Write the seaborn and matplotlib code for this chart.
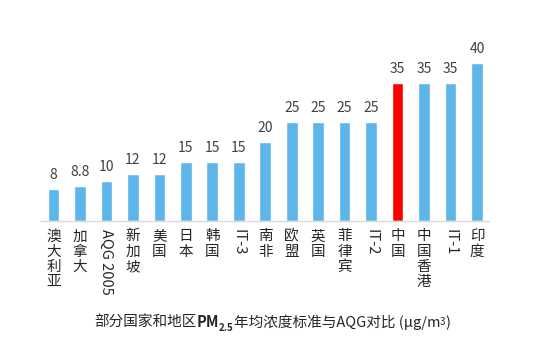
import matplotlib
matplotlib.use("Agg")
import matplotlib.pyplot as plt
import seaborn as sns
import pandas as pd

# data
regions = ["澳大利亚", "加拿大", "AQG 2005", "新加坡", "美国", "日本", "韩国", "IT-3",
           "南非", "欧盟", "英国", "菲律宾", "IT-2", "中国", "中国香港", "IT-1", "印度"]
limits = [8, 8.8, 10, 12, 12, 15, 15, 15, 20, 25, 25, 25, 25, 35, 35, 35, 40]
value_text = ["8", "8.8", "10", "12", "12", "15", "15", "15", "20", "25", "25", "25",
              "25", "35", "35", "35", "40"]
highlight = "中国"

blue = "#5DB6E9"
red = "#FF0000"

sns.set_style("white")
plt.rcParams['font.family'] = ['Noto Sans CJK SC', 'DejaVu Sans']

df = pd.DataFrame({"region": regions, "limit": limits})
colors = [red if r == highlight else blue for r in regions]

fig = plt.figure(figsize=(5.41, 3.56), dpi=100)
ax = fig.add_axes([0.0758, 0.3792, 0.828, 0.489])

sns.barplot(data=df, x="region", y="limit", hue="region", palette=colors,
            legend=False, width=0.44, saturation=1, ax=ax)

ax.set_xlim(-0.47, 16.45)
ax.set_ylim(0, 44)

for i, (v, t) in enumerate(zip(limits, value_text)):
    ax.annotate(t, (i, v), xytext=(0, 5), textcoords="offset points",
                ha="center", va="bottom", fontsize=10, color="#404040")

# vertical category labels: CJK stacked, latin rotated
labels = []
for r in regions:
    if r.isascii():
        labels.append(r)
    else:
        labels.append("\n".join(r))
ax.set_xticks(range(len(regions)))
ax.set_xticklabels(labels, fontsize=10.5, color="#262626", linespacing=1.12, va="top")
for lab, r in zip(ax.get_xticklabels(), regions):
    if r.isascii():
        lab.set_rotation(-90)
ax.tick_params(axis="x", length=0, pad=6)
ax.set_yticks([])
ax.set_xlabel("")
ax.set_ylabel("")

for s in ["top", "left", "right"]:
    ax.spines[s].set_visible(False)
ax.spines["bottom"].set_color("#D9D9D9")
ax.spines["bottom"].set_linewidth(1)

# title pieces below the chart
tc = "#262626"
t1 = fig.text(94 / 541, 1 - 330 / 356, "部分国家和地区", fontsize=10.5, color=tc,
              ha="left", va="bottom")
t2 = ax.annotate("PM", xy=(1, 0), xycoords=t1, va="bottom", ha="left",
                 fontsize=10.5, fontweight="bold", color=tc, annotation_clip=False)
t3 = ax.annotate("2.5", xy=(1, 0), xycoords=t2, xytext=(0, -2), textcoords="offset points",
                 va="bottom", ha="left", fontsize=7, fontweight="bold", color=tc,
                 annotation_clip=False)
t4 = ax.annotate("年均浓度标准与AQG对比 (μg/m", xy=(1, 0), xycoords=t3,
                 xytext=(0, 2), textcoords="offset points", va="bottom", ha="left",
                 fontsize=10.5, color=tc, annotation_clip=False)
t5 = ax.annotate("3", xy=(1, 1), xycoords=t4, xytext=(0, -9), textcoords="offset points",
                 va="bottom", ha="left", fontsize=7, color=tc, annotation_clip=False)
t6 = ax.annotate(")", xy=(1, 0), xycoords=t4, xytext=(4, 0), textcoords="offset points",
                 va="bottom", ha="left", fontsize=10.5, color=tc, annotation_clip=False)

fig.savefig("out.png", dpi=100)
